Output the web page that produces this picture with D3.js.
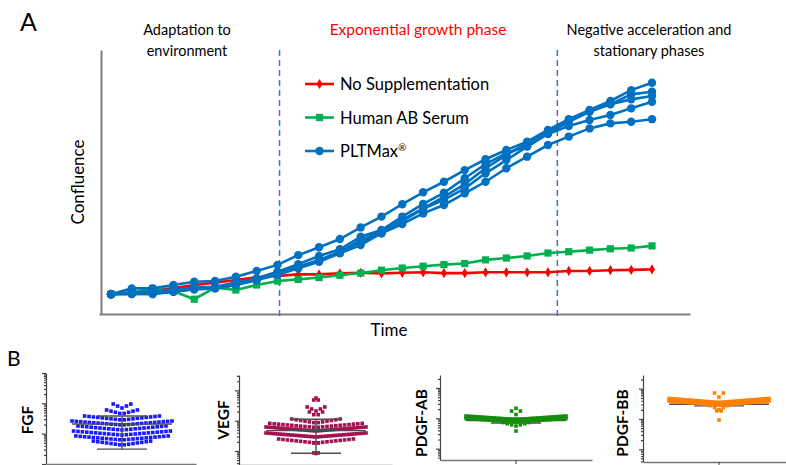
<!DOCTYPE html>
<html>
<head>
<meta charset="utf-8">
<script src="https://cdn.jsdelivr.net/npm/d3@7"></script>
<style>
  body { margin: 0; background: #fff; }
  svg { display: block; }
  text { font-family: Lato, 'Open Sans', sans-serif; }
</style>
</head>
<body>
<svg id="chart" width="786" height="465"></svg>
<script>
const svg = d3.select('#chart');

// ---------- panel A data (confluence, arbitrary units)
const timePoints = [1, 2, 3, 4, 5, 6, 7, 8, 9, 10, 11, 12, 13, 14, 15, 16, 17, 18, 19, 20, 21, 22, 23, 24, 25, 26, 27];
const noSupplementation = [7.5, 8.1, 8.9, 9.8, 11.0, 11.9, 12.9, 13.9, 14.4, 15.0, 15.0, 15.4, 15.6, 15.4, 15.6, 15.8, 15.5, 15.5, 15.8, 15.8, 15.8, 15.8, 16.3, 16.3, 16.6, 16.7, 16.9];
const humanABSerum = [7.5, 8.1, 9.7, 8.6, 5.6, 10.0, 9.1, 11.0, 12.5, 13.1, 13.8, 14.7, 15.5, 16.6, 17.4, 18.1, 18.7, 19.1, 20.5, 21.2, 22.0, 23.1, 23.6, 24.2, 24.7, 25.0, 25.8];
const pltMaxA = [7.5, 9.7, 9.7, 11.0, 12.2, 12.5, 14.1, 16.3, 18.6, 22.3, 25.3, 28.4, 32.8, 36.9, 41.6, 46.1, 50.1, 54.5, 58.6, 62.1, 65.3, 69.7, 73.8, 77.3, 80.7, 84.8, 87.6];
const pltMaxB = [7.5, 8.1, 8.4, 9.4, 10.1, 10.3, 11.9, 13.5, 16.0, 18.9, 22.0, 24.5, 29.3, 31.8, 36.9, 41.7, 45.9, 51.4, 56.8, 60.9, 63.6, 68.4, 72.8, 76.6, 79.4, 83.2, 84.2];
const pltMaxC = [7.5, 7.6, 7.6, 8.4, 9.4, 9.7, 11.0, 12.9, 15.4, 17.9, 20.5, 23.6, 28.0, 31.4, 35.6, 40.0, 44.4, 49.2, 55.2, 60.2, 64.8, 69.3, 73.5, 76.9, 79.5, 81.3, 82.6];
const pltMaxD = [7.5, 8.0, 8.3, 8.9, 9.7, 10.0, 11.4, 13.3, 15.2, 17.8, 20.3, 23.3, 27.3, 30.6, 35.2, 39.8, 43.2, 47.6, 53.3, 58.3, 63.4, 68.2, 71.2, 73.5, 75.4, 77.9, 80.4];
const pltMaxE = [7.5, 7.6, 7.6, 8.4, 9.4, 9.7, 11.0, 12.9, 14.8, 17.3, 19.8, 23.0, 26.1, 30.6, 34.1, 38.1, 41.3, 45.7, 50.1, 55.2, 59.6, 64.0, 67.2, 70.3, 72.2, 72.8, 73.8];
const phaseBreaks = [9.1, 22.45];
const phaseTitles = [['Adaptation to', 'environment'], ['Exponential growth phase'], ['Negative acceleration and', 'stationary phases']];
const legendLabels = ['No Supplementation', 'Human AB Serum', 'PLTMax®'];

// ---------- panel B data (growth factor levels, log axis)
const fgfRowValues = [70, 44.5, 28.2, 19.3, 13.2, 9.0, 6.2, 4.2];
const fgfRowCounts = [5, 8, 18, 24, 21, 23, 22, 14];
const fgfMeanSD = [20.8, 3.1, 38.2];

const vegfRowValues = [5.6, 3.55, 2.09, 1.43, 0.84, 0.60, 0.457, 0.290, 0.184, 0.136, 0.083, 0.064];
const vegfRowCounts = [1, 2, 5, 4, 12, 22, 36, 36, 18, 2, 1, 2];
const vegfMeanSD = [0.47, 0.084, 1.11];

const pdgfabRowValues = [2.14, 1.33, 0.913, 0.755, 0.557, 0.381];
const pdgfabRowCounts = [1, 3, 40, 40, 7, 1];
const pdgfabMeanSD = [0.85, 0.7, 1.0];

const pdgfbbRowValues = [5.31, 3.50, 2.89, 2.03, 1.36, 0.927];
const pdgfbbRowCounts = [3, 40, 40, 5, 2, 1];
const pdgfbbMeanSD = [3.05, 2.7, 3.4];

// =============== panel A
const x = d3.scaleLinear().domain([1, 27]).range([111, 652]);
const y = d3.scaleLinear().domain([0, 100]).range([314, 50]);

svg.append('text').attr('x', 20).attr('y', 31).attr('font-size', 25).text('A');

// axes (no ticks, just the lines)
const xAxisScale = d3.scaleLinear().domain([x.invert(99), x.invert(690)]).range([99, 690]);
const gx = svg.append('g').attr('transform', 'translate(0,314)')
  .call(d3.axisBottom(xAxisScale).tickValues([]).tickSizeOuter(0));
gx.select('.domain').attr('stroke', '#7f7f7f').attr('stroke-width', 2);
const gy = svg.append('g').attr('transform', 'translate(101,0)')
  .call(d3.axisLeft(y).tickValues([]).tickSizeOuter(0));
gy.select('.domain').attr('stroke', '#7f7f7f').attr('stroke-width', 2);

// phase separators
svg.selectAll('line.phase').data(phaseBreaks).enter().append('line')
  .attr('class', 'phase')
  .attr('x1', d => x(d)).attr('x2', d => x(d))
  .attr('y1', 50).attr('y2', 318)
  .attr('stroke', '#4472C4').attr('stroke-width', 1.5)
  .attr('stroke-dasharray', '6,4');

// phase titles
const titleX = [187, 418, 649];
phaseTitles.forEach((lines, i) => {
  lines.forEach((t, j) => {
    svg.append('text')
      .attr('x', titleX[i]).attr('y', 35 + j * 21)
      .attr('text-anchor', 'middle')
      .attr('font-size', i === 1 ? 15.5 : 14.5)
      .attr('fill', i === 1 ? '#ff0000' : '#000')
      .text(t);
  });
});

svg.append('text')
  .attr('transform', 'translate(84,182) rotate(-90)')
  .attr('text-anchor', 'middle').attr('font-size', 17)
  .text('Confluence');
svg.append('text')
  .attr('x', 389).attr('y', 336)
  .attr('text-anchor', 'middle').attr('font-size', 17)
  .text('Time');

const line = d3.line().x((d, i) => x(timePoints[i])).y(d => y(d));

const series = [
  { values: noSupplementation, color: '#ff0000', shape: 'diamond' },
  { values: humanABSerum, color: '#00b050', shape: 'square' },
  { values: pltMaxA, color: '#0070c0', shape: 'circle' },
  { values: pltMaxB, color: '#0070c0', shape: 'circle' },
  { values: pltMaxC, color: '#0070c0', shape: 'circle' },
  { values: pltMaxD, color: '#0070c0', shape: 'circle' },
  { values: pltMaxE, color: '#0070c0', shape: 'circle' }
];

const drawMarker = (g, shape, color, cx, cy) => {
  if (shape === 'circle') {
    g.append('circle').attr('cx', cx).attr('cy', cy).attr('r', 4.2).attr('fill', color);
  } else {
    const sym = shape === 'square' ? d3.symbolSquare : d3.symbolDiamond;
    const size = shape === 'square' ? 52 : 30;
    g.append('path').attr('d', d3.symbol(sym, size)())
      .attr('transform', `translate(${cx},${cy})`).attr('fill', color);
  }
};

series.forEach(s => {
  const g = svg.append('g');
  g.append('path').datum(s.values)
    .attr('d', line).attr('fill', 'none')
    .attr('stroke', s.color).attr('stroke-width', 2.6);
  s.values.forEach((v, i) => drawMarker(g, s.shape, s.color, x(timePoints[i]), y(v)));
});

// legend
const legendColors = ['#ff0000', '#00b050', '#0070c0'];
const legendShapes = ['diamond', 'square', 'circle'];
legendLabels.forEach((lab, i) => {
  const ly = 84 + i * 33.5;
  const g = svg.append('g');
  g.append('line').attr('x1', 305).attr('x2', 334).attr('y1', ly).attr('y2', ly)
    .attr('stroke', legendColors[i]).attr('stroke-width', 2.6);
  drawMarker(g, legendShapes[i], legendColors[i], 319.5, ly);
  const t = g.append('text').attr('x', 340).attr('y', ly + 6).attr('font-size', 16.5);
  if (lab.endsWith('®')) {
    t.text(lab.slice(0, -1));
    t.append('tspan').attr('font-size', 10).attr('dy', -6).text('®');
  } else {
    t.text(lab);
  }
});

// =============== panel B
svg.append('text').attr('x', 7).attr('y', 366).attr('font-size', 21).text('B');

const panels = [
  { label: 'FGF', rows: fgfRowValues, counts: fgfRowCounts, stats: fgfMeanSD, color: '#1a1aff',
    domain: [1, 1000], axisX: 46, top: 373, bottom: 464, cx: 122, xEnd: 196, labelX: 33, labelY: 420, rise: 4, barsOnTop: true },
  { label: 'VEGF', rows: vegfRowValues, counts: vegfRowCounts, stats: vegfMeanSD, color: '#a3124f',
    domain: [0.0346, 32.1], axisX: 239, top: 375, bottom: 465, cx: 316, xEnd: 392, labelX: 229, labelY: 420, rise: 4, barsOnTop: true },
  { label: 'PDGF-AB', rows: pdgfabRowValues, counts: pdgfabRowCounts, stats: pdgfabMeanSD, color: '#178c0f',
    domain: [0.0422, 26.8], axisX: 440, top: 375, bottom: 460, cx: 516, xEnd: 592, labelX: 427, labelY: 423, rise: 3.5, barsOnTop: false, xTick: true },
  { label: 'PDGF-BB', rows: pdgfbbRowValues, counts: pdgfbbRowCounts, stats: pdgfbbMeanSD, color: '#ff8005',
    domain: [0.0382, 28.2], axisX: 643, top: 375, bottom: 462, cx: 719, xEnd: 786, labelX: 628, labelY: 423, rise: 4, barsOnTop: false, xTick: true }
];

const maxWidth = 100, dotGap = 4.4, dotSize = 3.6;

panels.forEach(p => {
  const ys = d3.scaleLog().domain(p.domain).range([p.bottom, p.top]);
  const g = svg.append('g');
  const dots = g.append('g');

  // mean +/- SD
  const [mean, lo, hi] = p.stats;
  const bar = (p.barsOnTop ? g.append('g') : g.insert('g', ':first-child'))
    .attr('stroke', '#4d4d4d').attr('stroke-width', 1.4);
  bar.append('line').attr('x1', p.cx).attr('x2', p.cx).attr('y1', ys(lo)).attr('y2', ys(hi));
  bar.append('line').attr('x1', p.cx - 50).attr('x2', p.cx + 50).attr('y1', ys(mean)).attr('y2', ys(mean));
  [lo, hi].forEach(v => bar.append('line').attr('x1', p.cx - 25).attr('x2', p.cx + 25).attr('y1', ys(v)).attr('y2', ys(v)));

  // dots, laid out row by row as a swarm
  p.rows.forEach((v, r) => {
    const n = p.counts[r];
    const gap = n > 1 ? Math.min(dotGap, maxWidth / (n - 1)) : 0;
    const half = (n - 1) / 2 * gap;
    for (let j = 0; j < n; j++) {
      const dx = (j - (n - 1) / 2) * gap;
      const lift = half > 0 ? p.rise * Math.abs(dx) / half : 0;
      dots.append('rect')
        .attr('x', p.cx + dx - dotSize / 2)
        .attr('y', ys(v) - lift - dotSize / 2)
        .attr('width', dotSize).attr('height', dotSize)
        .attr('fill', p.color);
    }
  });

  // log y axis: major decades + minor ticks, no labels
  const all = ys.ticks();
  const major = all.filter(t => Math.abs(Math.log10(t) - Math.round(Math.log10(t))) < 1e-6);
  const minor = all.filter(t => !major.includes(t));
  const ax = svg.append('g').attr('transform', `translate(${p.axisX},0)`);
  ax.call(d3.axisLeft(ys).tickValues(major).tickSize(4).tickSizeOuter(0).tickFormat(''));
  ax.append('g').call(d3.axisLeft(ys).tickValues(minor).tickSize(2).tickSizeOuter(0).tickFormat(''))
    .select('.domain').remove();
  ax.selectAll('path, line').attr('stroke', '#444').attr('stroke-width', 1.2);

  // x axis line
  const xs = d3.scalePoint().domain([p.label]).range([p.axisX, p.xEnd]);
  const bx = svg.append('g').attr('transform', `translate(0,${p.bottom})`)
    .call(d3.axisBottom(xs).tickValues(p.xTick ? [p.label] : []).tickSize(4).tickSizeOuter(0).tickFormat(''));
  bx.select('.domain').attr('stroke', '#777').attr('stroke-width', 1.6);
  bx.selectAll('line').attr('stroke', '#444');
  // place the tick under the swarm centre
  bx.selectAll('.tick').attr('transform', `translate(${p.cx},0)`);

  svg.append('text')
    .attr('transform', `translate(${p.labelX},${p.labelY}) rotate(-90)`)
    .attr('text-anchor', 'middle')
    .attr('font-family', "'Liberation Sans', Arial, sans-serif")
    .attr('font-weight', 'bold').attr('font-size', 15.5)
    .text(p.label);
});
</script>
</body>
</html>
